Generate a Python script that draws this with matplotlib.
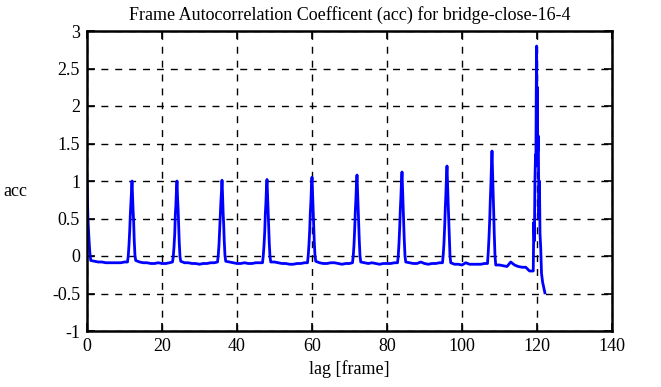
import matplotlib
matplotlib.use('Agg')
import matplotlib.pyplot as plt

plt.rcParams['font.family'] = ['Liberation Serif', 'DejaVu Serif']
plt.rcParams['axes.unicode_minus'] = False

# lag values (frames) and autocorrelation coefficients
lag = [0, 0.25, 0.5, 0.75, 1, 2, 3, 4, 5, 6, 7, 8, 9, 10,
       10.8, 11.0, 11.2, 11.4, 11.55, 11.7, 11.85, 12.0, 12.15, 12.3, 12.45, 12.6, 12.8, 13.0,
       14, 15, 16, 17, 18, 19, 20, 21, 22,
       22.8, 23.0, 23.2, 23.4, 23.55, 23.7, 23.85, 24.0, 24.15, 24.3, 24.45, 24.6, 24.8, 25.0,
       26, 27, 28, 29, 30, 31, 32, 33, 34,
       34.8, 35.0, 35.2, 35.4, 35.55, 35.7, 35.85, 36.0, 36.15, 36.3, 36.45, 36.6, 36.8, 37.0,
       38, 39, 40, 41, 42, 43, 44, 45, 46,
       46.8, 47.0, 47.2, 47.4, 47.55, 47.7, 47.85, 48.0, 48.15, 48.3, 48.45, 48.6, 48.8, 49.0,
       50, 51, 52, 53, 54, 55, 56, 57, 58,
       58.8, 59.0, 59.2, 59.4, 59.55, 59.7, 59.85, 60.0, 60.15, 60.3, 60.45, 60.6, 60.8, 61.0,
       62, 63, 64, 65, 66, 67, 68, 69, 70,
       70.8, 71.0, 71.2, 71.4, 71.55, 71.7, 71.85, 72.0, 72.15, 72.3, 72.45, 72.6, 72.8, 73.0,
       74, 75, 76, 77, 78, 79, 80, 81, 82,
       82.8, 83.0, 83.2, 83.4, 83.55, 83.7, 83.85, 84.0, 84.15, 84.3, 84.45, 84.6, 84.8, 85.0,
       86, 87, 88, 89, 90, 91, 92, 93, 94,
       94.8, 95.0, 95.2, 95.4, 95.55, 95.7, 95.85, 96.0, 96.15, 96.3, 96.45, 96.6, 96.8, 97.0,
       98, 99, 100, 101, 102, 103, 104, 105, 106,
       106.8, 107.0, 107.2, 107.4, 107.55, 107.7, 107.85, 108.0, 108.15, 108.3, 108.45, 108.6, 108.8, 109.0,
       110, 111, 112, 113, 114, 115, 116, 117, 118,
       119.0, 119.15, 119.3, 119.45, 119.6, 119.7, 119.8, 119.9, 120.0, 120.1,
       120.2, 120.35, 120.5, 120.65, 120.8, 121.0, 121.2, 121.5, 121.8, 122.1]

acc = [1.00, 0.50, 0.25, 0.05, -0.06, -0.07, -0.08, -0.08, -0.09, -0.09, -0.09, -0.09, -0.09, -0.08,
       -0.08, 0.00, 0.15, 0.35, 0.55, 0.70, 0.85, 1.00, 0.80, 0.60, 0.45, 0.20, 0.00, -0.06,
       -0.08, -0.09, -0.09, -0.10, -0.10, -0.09, -0.10, -0.10, -0.09,
       -0.08, -0.01, 0.12, 0.30, 0.55, 0.68, 0.88, 1.00, 0.78, 0.62, 0.40, 0.18, -0.01, -0.07,
       -0.09, -0.09, -0.10, -0.10, -0.11, -0.10, -0.10, -0.09, -0.09,
       -0.08, 0.01, 0.15, 0.38, 0.52, 0.72, 0.85, 1.01, 0.82, 0.58, 0.42, 0.20, 0.00, -0.07,
       -0.08, -0.09, -0.10, -0.10, -0.09, -0.10, -0.10, -0.09, -0.09,
       -0.09, 0.00, 0.14, 0.33, 0.56, 0.70, 0.90, 1.02, 0.80, 0.62, 0.40, 0.18, -0.01, -0.08,
       -0.08, -0.09, -0.10, -0.10, -0.11, -0.11, -0.10, -0.10, -0.09,
       -0.09, 0.01, 0.16, 0.36, 0.58, 0.72, 0.92, 1.05, 0.84, 0.62, 0.44, 0.20, 0.00, -0.07,
       -0.09, -0.10, -0.10, -0.09, -0.09, -0.10, -0.11, -0.10, -0.10,
       -0.09, 0.00, 0.15, 0.38, 0.60, 0.75, 0.95, 1.08, 0.86, 0.65, 0.45, 0.22, 0.00, -0.08,
       -0.09, -0.10, -0.09, -0.10, -0.11, -0.10, -0.10, -0.10, -0.09,
       -0.09, 0.00, 0.17, 0.40, 0.62, 0.78, 0.98, 1.12, 0.90, 0.68, 0.46, 0.22, 0.00, -0.08,
       -0.09, -0.10, -0.10, -0.08, -0.10, -0.11, -0.10, -0.10, -0.09,
       -0.09, 0.02, 0.18, 0.42, 0.65, 0.82, 1.05, 1.20, 0.95, 0.72, 0.50, 0.25, 0.00, -0.09,
       -0.11, -0.11, -0.12, -0.09, -0.11, -0.11, -0.11, -0.11, -0.10,
       -0.10, 0.05, 0.25, 0.50, 0.75, 0.95, 1.20, 1.40, 1.10, 0.85, 0.60, 0.30, 0.00, -0.12,
       -0.12, -0.13, -0.14, -0.08, -0.12, -0.14, -0.15, -0.15, -0.20,
       -0.20, 0.45, 0.20, 1.00, 1.35, 1.20, 2.20, 2.80, 1.30, 2.25,
       1.40, 1.60, 0.50, 1.00, 0.30, 0.10, -0.23, -0.35, -0.42, -0.49]

x_ticks = [0, 20, 40, 60, 80, 100, 120, 140]
y_ticks = [-1, -0.5, 0, 0.5, 1, 1.5, 2, 2.5, 3]
y_labels = ['-1', '-0.5', '0', '0.5', '1', '1.5', '2', '2.5', '3']

fig = plt.figure(figsize=(6.61, 3.87), dpi=100)
ax = fig.add_axes([87 / 661, 1 - 331 / 387, (612 - 87) / 661, (331 - 31) / 387])

ax.plot(lag, acc, color='#0000ff', linewidth=2)

ax.set_xlim(0, 140)
ax.set_ylim(-1, 3)
ax.set_xticks(x_ticks)
ax.set_yticks(y_ticks)
ax.set_yticklabels(y_labels)
ax.tick_params(direction='in', length=6, width=1.2, top=True, right=True,
               labelsize=13, pad=5)
ax.grid(True, color='black', linestyle=(0, (5, 5)), linewidth=1)
for sp in ax.spines.values():
    sp.set_linewidth(1.8)

ax.set_title('Frame Autocorrelation Coefficent (acc) for bridge-close-16-4',
             fontsize=13, pad=8)
ax.set_xlabel('lag [frame]', fontsize=13, labelpad=4)
fig.text(15 / 661, 1 - 191 / 387, 'acc', fontsize=13, ha='center', va='center')

fig.savefig('out.png', dpi=100)
